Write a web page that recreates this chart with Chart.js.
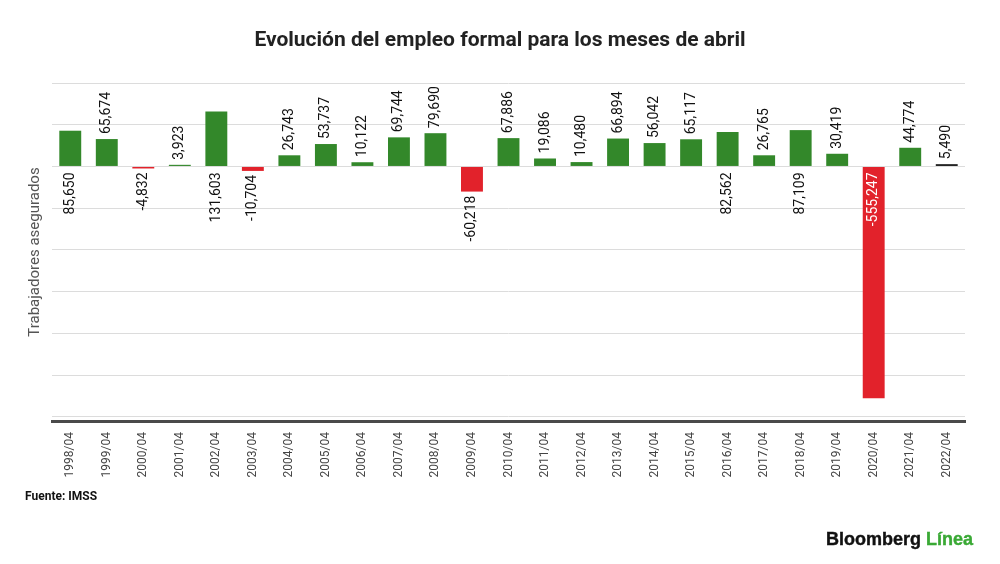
<!DOCTYPE html>
<html>
<head>
<meta charset="utf-8">
<script src="https://cdn.jsdelivr.net/npm/chart.js@4"></script>
<style>
  body { margin: 0; background: #fff; }
  #wrap { position: relative; width: 1000px; height: 564px; }
  #titulo { position: absolute; left: 0; top: 27px; width: 1000px; text-align: center; font: bold 21px/24px Roboto, sans-serif; color: #222; }
  #fuente { position: absolute; left: 25px; top: 489px; font: bold 12px Roboto, sans-serif; color: #111; }
  #logo { position: absolute; left: 826px; top: 529px; font: 900 18px/20px "Liberation Sans", Arial, sans-serif; color: #111; white-space: nowrap; -webkit-text-stroke: 0.4px currentColor; }
  #logo span { color: #3aa935; }
</style>
</head>
<body>
<div id="wrap">
  <canvas id="barChart"></canvas>
  <div id="titulo">Evolución del empleo formal para los meses de abril</div>
  <div id="fuente">Fuente: IMSS</div>
  <div id="logo">Bloomberg <span>Línea</span></div>
</div>
<script>
// meses de abril, altas netas de trabajadores asegurados
const meses = ["1998/04", "1999/04", "2000/04", "2001/04", "2002/04", "2003/04", "2004/04",
  "2005/04", "2006/04", "2007/04", "2008/04", "2009/04", "2010/04", "2011/04", "2012/04",
  "2013/04", "2014/04", "2015/04", "2016/04", "2017/04", "2018/04", "2019/04", "2020/04",
  "2021/04", "2022/04"];
const empleo = [85650, 65674, -4832, 3923, 131603, -10704, 26743, 53737, 10122, 69744,
  79690, -60218, 67886, 19086, 10480, 66894, 56042, 65117, 82562, 26765, 87109, 30419,
  -555247, 44774, 5490];

const VERDE = "#33882a";
const ROJO = "#e2222b";
const NEGRO = "#1a1a1a";

const colores = empleo.map((v, i) => {
  if (i === empleo.length - 1) return NEGRO;
  return v < 0 ? ROJO : VERDE;
});

const fmt = v => v.toLocaleString("en-US");

// etiquetas verticales sobre/debajo de cada barra
const etiquetas = {
  id: "etiquetas",
  afterDatasetsDraw(chart) {
    const ctx = chart.ctx;
    const meta = chart.getDatasetMeta(0);
    const cero = chart.scales.y.getPixelForValue(0);
    ctx.save();
    ctx.font = "14px Roboto";
    ctx.textBaseline = "middle";
    meta.data.forEach((bar, i) => {
      const v = empleo[i];
      const txt = fmt(v);
      const w = ctx.measureText(txt).width;
      let y, align, color = "#111";
      if (v >= 0 && v <= 80000) {
        y = bar.y - 5; align = "left";
      } else if (v > 0) {
        y = cero + 6; align = "right";
      } else if (bar.y - cero > w + 20) {
        y = cero + 6; align = "right"; color = "#fff";
      } else {
        y = bar.y + 4; align = "right";
      }
      ctx.save();
      ctx.translate(bar.x, y);
      ctx.rotate(-Math.PI / 2);
      ctx.textAlign = align;
      ctx.fillStyle = color;
      ctx.fillText(txt, 0, 0);
      ctx.restore();
    });
    ctx.restore();
  }
};

const ctx = document.getElementById("barChart").getContext("2d");
const chart = new Chart(ctx, {
  type: "bar",
  data: {
    labels: meses,
    datasets: [{
      data: empleo,
      backgroundColor: colores,
      barPercentage: 0.6,
      categoryPercentage: 1
    }]
  },
  options: {
    responsive: true,
    maintainAspectRatio: false,
    animation: false,
    layout: { padding: { left: 0, right: 35, top: 83, bottom: 0 } },
    plugins: {
      legend: { display: false },
      tooltip: { enabled: false }
    },
    scales: {
      x: {
        grid: { display: false },
        border: { display: true, color: "#4a4a4a", width: 3 },
        ticks: {
          minRotation: 90,
          maxRotation: 90,
          padding: 3,
          color: "#444",
          font: { family: "Roboto", size: 12 }
        },
        afterFit(scale) { scale.height = 143; }
      },
      y: {
        min: -610000,
        max: 200000,
        grid: { color: "#dcdcdc", drawTicks: false },
        border: { display: false },
        ticks: { display: false },
        afterBuildTicks(scale) {
          const t = [];
          for (let v = -600000; v <= 200000; v += 100000) t.push({ value: v });
          scale.ticks = t;
        },
        title: {
          display: true,
          text: "Trabajadores asegurados",
          color: "#555",
          font: { family: "Roboto", size: 15 },
          padding: { top: 26 }
        },
        afterFit(scale) { scale.width = 52; }
      }
    }
  },
  plugins: [etiquetas]
});
</script>
</body>
</html>
